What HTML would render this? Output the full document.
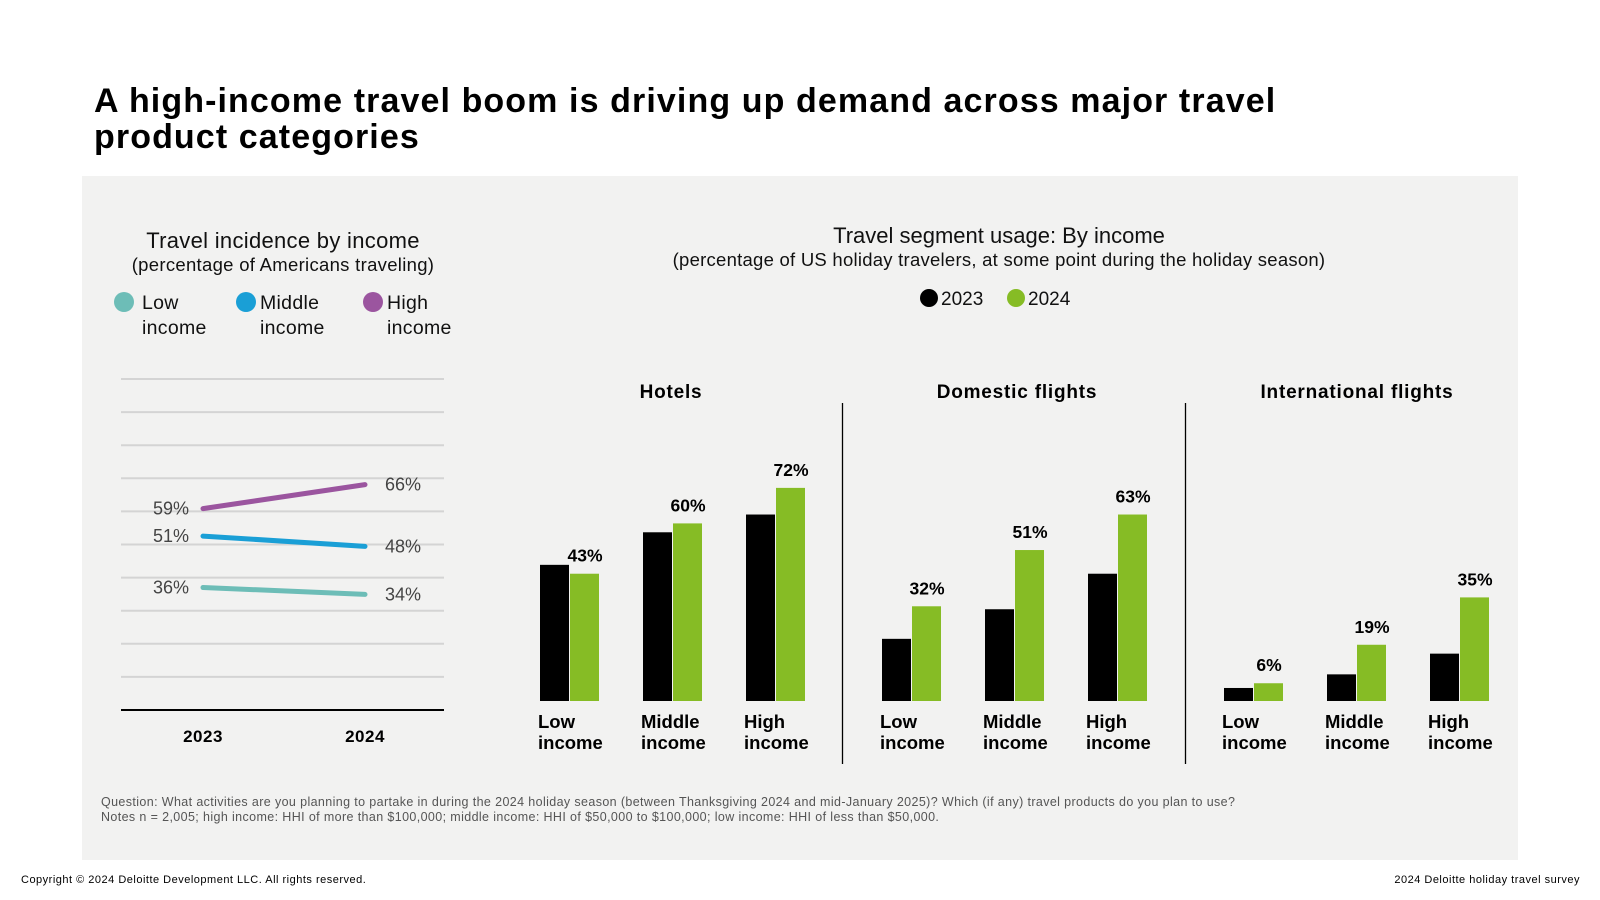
<!DOCTYPE html>
<html><head><meta charset="utf-8">
<style>
body{margin:0;width:1600px;height:900px;background:#fff;font-family:"Liberation Sans",sans-serif;overflow:hidden;position:relative}
svg{position:absolute;left:0;top:0}
</style></head>
<body>
<svg width="1600" height="900">
<text x="94" y="112" font-size="34" font-weight="bold" letter-spacing="1.1" fill="#000">A high-income travel boom is driving up demand across major travel</text>
<text x="94" y="148" font-size="34" font-weight="bold" letter-spacing="1.1" fill="#000">product categories</text>
<rect x="82" y="176" width="1436" height="684" fill="#f2f2f1"/>
<text x="283" y="248" font-size="22" letter-spacing="0.3" text-anchor="middle" fill="#111">Travel incidence by income</text>
<text x="283" y="271" font-size="18.5" letter-spacing="0.3" text-anchor="middle" fill="#111">(percentage of Americans traveling)</text>
<g id="lineLegend"></g>
<g id="lineChart"></g>
<text x="999" y="243" font-size="22" text-anchor="middle" fill="#111">Travel segment usage: By income</text>
<text x="999" y="266" font-size="18.5" letter-spacing="0.25" text-anchor="middle" fill="#111">(percentage of US holiday travelers, at some point during the holiday season)</text>
<circle cx="929" cy="298" r="9" fill="#000"/>
<text x="941" y="305" font-size="19" fill="#111">2023</text>
<circle cx="1016" cy="298" r="9" fill="#86bc25"/>
<text x="1028" y="305" font-size="19" fill="#111">2024</text>
<line x1="842.5" y1="403" x2="842.5" y2="764" stroke="#000" stroke-width="1.3"/>
<line x1="1185.5" y1="403" x2="1185.5" y2="764" stroke="#000" stroke-width="1.3"/>
<g id="barChart"></g>
<text x="101" y="806" font-size="12.5" letter-spacing="0.38" fill="#555">Question: What activities are you planning to partake in during the 2024 holiday season (between Thanksgiving 2024 and mid-January 2025)? Which (if any) travel products do you plan to use?</text>
<text x="101" y="821" font-size="12.5" letter-spacing="0.38" fill="#555">Notes n = 2,005; high income: HHI of more than $100,000; middle income: HHI of $50,000 to $100,000; low income: HHI of less than $50,000.</text>
<text x="21" y="883" font-size="11" letter-spacing="0.5" fill="#000">Copyright © 2024 Deloitte Development LLC. All rights reserved.</text>
<text x="1580" y="883" font-size="11" letter-spacing="0.5" fill="#000" text-anchor="end">2024 Deloitte holiday travel survey</text>
</svg>
<script>
const NS='http://www.w3.org/2000/svg';
function mk(tag,attrs,parent,txt){const e=document.createElementNS(NS,tag);for(const k in attrs)e.setAttribute(k,attrs[k]);if(txt!==undefined)e.textContent=txt;parent.appendChild(e);return e;}

// Line chart data
const years=['2023','2024'];
const lowIncome=[36,34];
const middleIncome=[51,48];
const highIncome=[59,66];
const lineSeriesNames=['Low','Middle','High'];
const lineColors=['#6dbdb7','#1a9fd6','#9b559f'];

// Bar chart data
const panels=['Hotels','Domestic flights','International flights'];
const incomeCats=['Low','Middle','High'];
const values2023=[[46,57,63],[21,31,43],[4.4,9,16]];
const values2024=[[43,60,72],[32,51,63],[6,19,35]];

// line chart
const lc=document.getElementById('lineChart');
const ly=v=>711-v*3.43;
const lx=i=>203+i*162;
for(let i=0;i<10;i++){
  const y=379+i*33.1;
  const g=mk('line',{x1:121,x2:444,y1:y,y2:y,stroke:'#d4d4d4','stroke-width':2},lc);
  
  
}
const ax=mk('line',{x1:121,x2:444,y1:710,y2:710,stroke:'#000','stroke-width':2},lc);


years.forEach((yr,i)=>{
  const t=mk('text',{x:lx(i),y:742,'font-size':17,'font-weight':'bold','text-anchor':'middle',fill:'#000','letter-spacing':0.5},lc,yr);
  
  
});
[lowIncome,middleIncome,highIncome].forEach((s,k)=>{
  const l=mk('line',{x1:lx(0),y1:ly(s[0]),x2:lx(1),y2:ly(s[1]),stroke:lineColors[k],'stroke-width':5,'stroke-linecap':'round'},lc);
  
  
  const a=mk('text',{x:lx(0)-14,y:ly(s[0])+6,'font-size':18,'text-anchor':'end',fill:'#444'},lc,s[0]+'%');
  
  
  const b=mk('text',{x:lx(1)+20,y:ly(s[1])+6,'font-size':18,fill:'#444'},lc,s[1]+'%');
  
  
});
// line legend
const lg=document.getElementById('lineLegend');
const legX=[124,246,373];
lineSeriesNames.forEach((n,k)=>{
  const c=mk('circle',{cx:legX[k],cy:302,r:10,fill:lineColors[k]},lg);
  
  
  const t1=mk('text',{x:legX[k]+(k===0?18:14),y:309,'font-size':19.5,fill:'#111','letter-spacing':0.3},lg,n);
  
  
  const t2=mk('text',{x:legX[k]+(k===0?18:14),y:334,'font-size':19.5,fill:'#111','letter-spacing':0.3},lg,'income');
  
  
});
// bar chart
const bc=document.getElementById('barChart');
const base=701, sc=2.96;
const panelStart=[540,882,1224];
const headX=[671,1017,1357];
panels.forEach((p,pi)=>{
  const h=mk('text',{x:headX[pi],y:398,'font-size':19,'font-weight':'bold','text-anchor':'middle',fill:'#000','letter-spacing':0.8},bc,p);
  
  
  incomeCats.forEach((c,ci)=>{
    const x=panelStart[pi]+ci*103;
    const v1=values2023[pi][ci], v2=values2024[pi][ci];
    const r1=mk('rect',{x:x,y:base-v1*sc,width:29,height:v1*sc,fill:'#000'},bc);
    
    
    const r2=mk('rect',{x:x+30,y:base-v2*sc,width:29,height:v2*sc,fill:'#86bc25'},bc);
    
    
    const t=mk('text',{x:x+45,y:base-v2*sc-12,'font-size':17.5,'font-weight':'bold','text-anchor':'middle',fill:'#000'},bc,v2+'%');
    
    
    const l1=mk('text',{x:x-2,y:728,'font-size':18.5,'font-weight':'bold',fill:'#000'},bc,c);
    
    
    const l2=mk('text',{x:x-2,y:749,'font-size':18.5,'font-weight':'bold',fill:'#000'},bc,'income');
    
    
  });
});
</script>
</body></html>
